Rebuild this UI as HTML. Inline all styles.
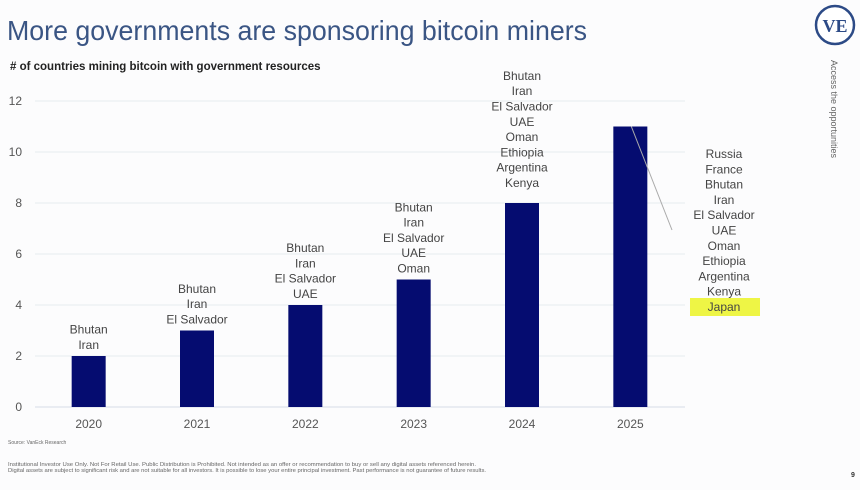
<!DOCTYPE html>
<html><head><meta charset="utf-8"><style>
body{margin:0;background:#fff;font-family:"Liberation Sans",sans-serif}
#wrap{position:relative;width:860px;height:490px;overflow:hidden;background:#fcfcfd}
</style></head><body>
<div id="wrap">
<svg id="chart" width="860" height="490" style="position:absolute;left:0;top:0">
<text x="7" y="40" font-size="28" fill="#3a5584" textLength="580" lengthAdjust="spacingAndGlyphs">More governments are sponsoring bitcoin miners</text>
<text x="10" y="70" font-size="11.5" font-weight="bold" fill="#222"># of countries mining bitcoin with government resources</text>
<circle cx="835" cy="25" r="19" fill="#fff" stroke="#2c4a86" stroke-width="2.5"/>
<text x="835" y="32" font-size="18" font-weight="bold" font-family="Liberation Serif,serif" fill="#2c4a86" text-anchor="middle">VE</text>
<text transform="translate(831,60) rotate(90)" font-size="9" fill="#666">Access the opportunities</text>
<text x="8" y="444" font-size="5" fill="#666">Source: VanEck Research</text>
<text x="8" y="466" font-size="5.5" fill="#666" textLength="468" lengthAdjust="spacingAndGlyphs">Institutional Investor Use Only. Not For Retail Use. Public Distribution is Prohibited. Not intended as an offer or recommendation to buy or sell any digital assets referenced herein.</text>
<text x="8" y="472" font-size="5.5" fill="#666" textLength="478" lengthAdjust="spacingAndGlyphs">Digital assets are subject to significant risk and are not suitable for all investors. It is possible to lose your entire principal investment. Past performance is not guarantee of future results.</text>
<text x="851" y="477" font-size="7" font-weight="bold" fill="#333">9</text>
<g id="g"></g>
</svg>
</div>
<script>
const years=["2020","2021","2022","2023","2024","2025"];
const counts=[2,3,4,5,8,11];
const yTicks=[0,2,4,6,8,10,12];
const countryLists=[
["Bhutan","Iran"],
["Bhutan","Iran","El Salvador"],
["Bhutan","Iran","El Salvador","UAE"],
["Bhutan","Iran","El Salvador","UAE","Oman"],
["Bhutan","Iran","El Salvador","UAE","Oman","Ethiopia","Argentina","Kenya"],
["Russia","France","Bhutan","Iran","El Salvador","UAE","Oman","Ethiopia","Argentina","Kenya","Japan"]
];
const NS="http://www.w3.org/2000/svg";
const g=document.getElementById('g');
const y0=407,y1=101,x0=35,x1=685;
const y=v=>y0-(v/12)*(y0-y1);
const step=(x1-x0)/years.length;
const xc=i=>x0+step*(i+0.5)-0.5;
function mk(t,a){const e=document.createElementNS(NS,t);for(const k in a)e.setAttribute(k,a[k]);g.appendChild(e);return e;}
yTicks.forEach(v=>{
 const l=mk('line',{x1:x0,x2:x1,y1:y(v),y2:y(v),stroke:v===0?'#d6dde6':'#e6ebf0','stroke-width':1});
 
 
 const t=mk('text',{x:22,y:y(v)+4,'font-size':12,fill:'#555','text-anchor':'end'});t.textContent=v;
 
 
});
years.forEach((yr,i)=>{
 const b=mk('rect',{x:xc(i)-17,y:y(counts[i]),width:34,height:y0-y(counts[i]),fill:'#050c70'});
 
 
 const t=mk('text',{x:xc(i),y:428,'font-size':12,fill:'#555','text-anchor':'middle'});t.textContent=yr;
 
 
 const list=countryLists[i];
 if(i<5){
  const off=i===4?20:11;
  list.forEach((c,j)=>{
   const tt=mk('text',{x:xc(i),y:y(counts[i])-off+4-(list.length-1-j)*15.3,'font-size':12,fill:'#444','text-anchor':'middle'});tt.textContent=c;
   
   
  });
 } else {
  const ln=mk('line',{x1:xc(i)+1,y1:y(counts[i]),x2:672,y2:230,stroke:'#aaa','stroke-width':1});
  
  
  list.forEach((c,j)=>{
   const cy=154+j*15.3;
   if(c==='Japan'){const h=mk('rect',{x:690,y:cy-9,width:70,height:18,fill:'#eef545'});
    
    }
   const tt=mk('text',{x:724,y:cy+4,'font-size':12,fill:'#444','text-anchor':'middle'});tt.textContent=c;
   
   
  });
 }
});
</script>
</body></html>
